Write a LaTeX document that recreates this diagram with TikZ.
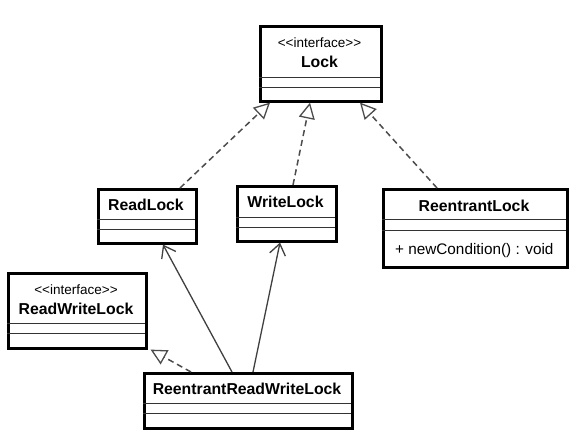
\documentclass[tikz,border=0pt]{standalone}
\usepackage{fontspec}
\setmainfont{Liberation Sans}[Ligatures=NoCommon]
\usetikzlibrary{arrows.meta}
\newcommand{\stereotext}{{<}{<}interface{>}{>}}
\begin{document}
\begin{tikzpicture}[x=1pt,y=-1pt,
  classbox/.style={draw=black, line width=2.6pt, inner sep=0pt, anchor=north west},
  sep/.style={line width=1pt, draw=black!80},
  title/.style={font=\bfseries\fontsize{15.8}{17}\selectfont, inner sep=0pt},
  stereo/.style={font=\fontsize{13.5}{15}\selectfont, inner sep=0pt},
  member/.style={font=\fontsize{15.3}{17}\selectfont, inner sep=0pt, anchor=west},
  realize/.style={draw=black!70, line width=1.5pt, dash pattern=on 6pt off 4pt,
    -{Triangle[open, length=16pt, width=16pt, line width=1.3pt]}},
  assoc/.style={draw=black!75, line width=1.3pt,
    -{Straight Barb[length=11pt, width=16pt, line width=1.3pt]}}
]
\useasboundingbox[fill=white] (0,0) rectangle (575,440);

% Lock
\node[classbox, minimum width=121pt, minimum height=75pt] (lock) at (259,25) {};
\draw[sep] (259,77) -- (380,77) (259,87) -- (380,87);
\node[stereo] (lockst) at (319.5,43) {\stereotext};
\node[title] (lockt) at (319.5,62) {Lock};

% ReadLock
\node[classbox, minimum width=98pt, minimum height=54pt] (readlock) at (97,188) {};
\draw[sep] (97,219) -- (195,219) (97,229) -- (195,229);
\node[title] (readlockt) at (146,205) {ReadLock};

% WriteLock
\node[classbox, minimum width=99pt, minimum height=55pt] (writelock) at (236,185) {};
\draw[sep] (236,217) -- (335,217) (236,227) -- (335,227);
\node[title] (writelockt) at (285.5,202) {WriteLock};

% ReentrantLock
\node[classbox, minimum width=184pt, minimum height=78pt] (reentrantlock) at (382,188) {};
\draw[sep] (382,219) -- (566,219) (382,230) -- (566,230);
\node[title] (reentrantlockt) at (474,206) {ReentrantLock};
\node[member] (newcond) at (395,251) {+ newCondition() : void};

% ReadWriteLock
\node[classbox, minimum width=138pt, minimum height=75pt] (rwlock) at (7,272) {};
\draw[sep] (7,323) -- (145,323) (7,333) -- (145,333);
\node[stereo] (rwlockst) at (76,290) {\stereotext};
\node[title] (rwlockt) at (76,309) {ReadWriteLock};

% ReentrantReadWriteLock
\node[classbox, minimum width=208pt, minimum height=55pt] (rrwl) at (143,372) {};
\draw[sep] (143,403) -- (351,403) (143,413) -- (351,413);
\node[title] (rrwlt) at (247,389) {ReentrantReadWriteLock};

% realizations
\draw[realize] ([xshift=83pt]readlock.north west) -- ([xshift=11pt]lock.south west);
\draw[realize] ([xshift=57pt]writelock.north west) -- ([xshift=51pt]lock.south west);
\draw[realize] ([xshift=55pt]reentrantlock.north west) -- ([xshift=101pt]lock.south west);
\draw[realize] ([xshift=48pt]rrwl.north west) -- ([xshift=3pt]rwlock.south east);

% associations
\draw[assoc] ([xshift=89pt]rrwl.north west) -- ([xshift=66pt]readlock.south west);
\draw[assoc] ([xshift=110pt]rrwl.north west) -- ([xshift=44pt]writelock.south west);
\end{tikzpicture}
\end{document}
